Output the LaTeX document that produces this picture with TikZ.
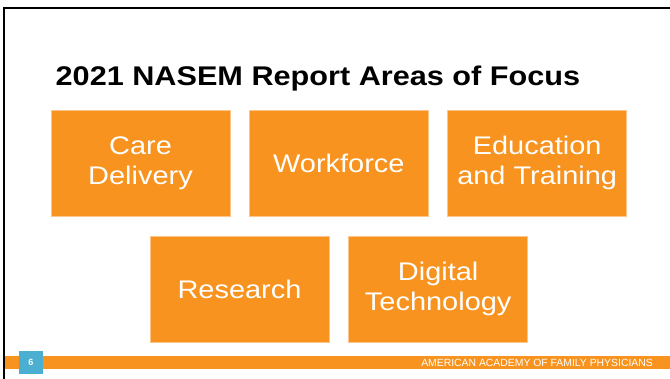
\documentclass[tikz,border=0pt]{standalone}
\usepackage{fontspec}
\setmainfont{Liberation Sans}
\newfontfamily\widefont{Liberation Sans}[FakeStretch=1.135]
\definecolor{aorange}{HTML}{F7931E}
\definecolor{aedge}{HTML}{FBC58C}
\definecolor{ablue}{HTML}{4AAFD0}
\begin{document}
\begin{tikzpicture}[x=1pt,y=-1pt,
  focus/.style={fill=aorange, draw=aedge, line width=0.6pt, minimum width=179pt, minimum height=106pt,
    inner sep=0pt, text=white, align=center, font=\widefont\fontsize{25.5}{29.5}\selectfont},
]
\useasboundingbox (0,0) rectangle (670,379);
\fill[white] (0,0) rectangle (670,379);
% slide border
\draw[line width=2pt] (4,379) -- (4,8.5) -- (670,8.5);
% title
\node[anchor=base west, inner sep=0pt, font=\widefont\fontsize{27}{30}\selectfont\bfseries] (title) at (55.5,85.5) {2021 NASEM Report Areas of Focus};
% boxes
\node[focus] (care) at (140.5,163) {Care\\Delivery};
\node[focus] (work) at (338.8,163) {Workforce};
\node[focus] (edu) at (537.2,163) {Education\\and Training};
\node[focus] (res) at (239.5,289) {Research};
\node[focus] (dig) at (438.2,289) {Digital\\Technology};
% footer
\fill[aorange] (5,355.7) rectangle (670,369.5);
\node[fill=ablue, minimum width=24pt, minimum height=23pt, inner sep=0pt, text=white,
  font=\fontsize{9}{10}\selectfont\bfseries] (pnum) at (31,362.5) {6};
\node[anchor=base east, inner sep=0pt, text=white, font=\fontsize{10.4}{12}\selectfont] (footer) at (653,366.3) {AMERICAN ACADEMY OF FAMILY PHYSICIANS};
\end{tikzpicture}
\end{document}
